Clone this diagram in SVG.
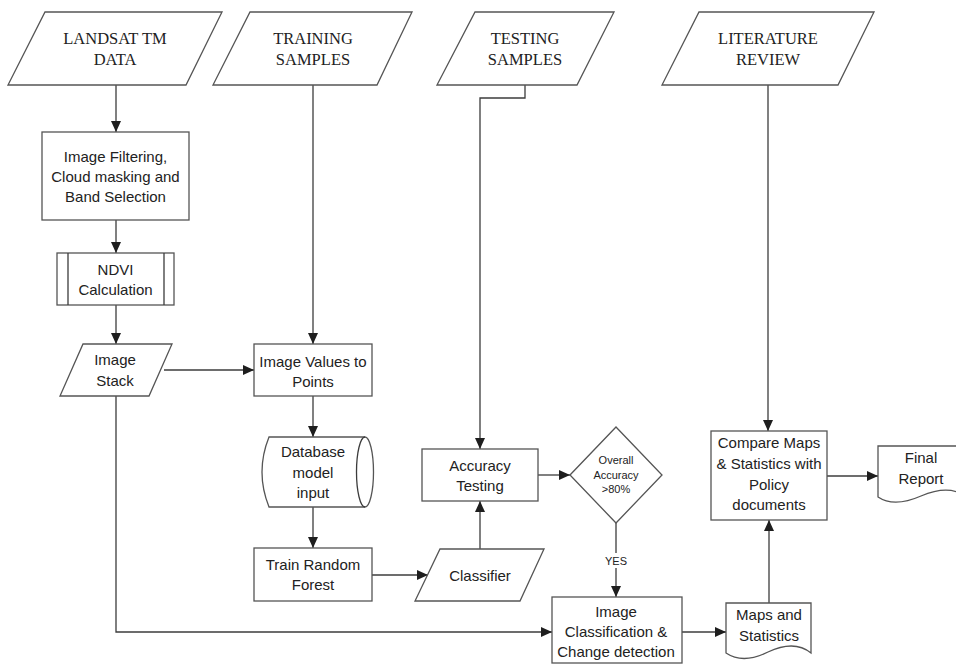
<svg xmlns="http://www.w3.org/2000/svg" width="956" height="664" viewBox="0 0 956 664">
<defs>
<marker id="ah" markerUnits="userSpaceOnUse" markerWidth="12" markerHeight="10" refX="11" refY="5" orient="auto">
<path d="M0,0 L11,5 L0,10 Z" fill="#1e1e1e"/>
</marker>
</defs>
<style>
.s{fill:#fff;stroke:#555;stroke-width:1.3}
.c{fill:none;stroke:#3c3c3c;stroke-width:1.3}
.a{marker-end:url(#ah)}
.t{font-family:"Liberation Serif","Times New Roman",serif;font-size:16.5px;fill:#222;text-anchor:middle}
.x{font-family:"Liberation Sans",Arial,sans-serif;font-size:15px;fill:#222;text-anchor:middle}
.m{font-family:"Liberation Sans",Arial,sans-serif;font-size:11px;fill:#222;text-anchor:middle}
</style>
<rect width="956" height="664" fill="#fff"/>
<g id="connectors">
<path class="c a" d="M116,85 V132"/>
<path class="c a" d="M116,220 V253"/>
<path class="c a" d="M116,305 V344"/>
<path class="c a" d="M164,370 H254"/>
<path class="c a" d="M313,85 V344"/>
<path class="c a" d="M313,396 V437"/>
<path class="c a" d="M313,507 V548"/>
<path class="c a" d="M372,575 H428"/>
<path class="c a" d="M480,549 V501"/>
<path class="c a" d="M525,85 V98 H480 V449"/>
<path class="c a" d="M538,475 H570"/>
<path class="c a" d="M616,523 V597"/>
<rect x="604" y="553" width="24" height="15" fill="#fff"/>
<text class="m" x="616" y="565">YES</text>
<path class="c a" d="M116,396 V632 H552"/>
<path class="c a" d="M682,632 H726"/>
<path class="c a" d="M769,603 V520"/>
<path class="c a" d="M768,85 V431"/>
<path class="c a" d="M827,476 H878"/>
</g>
<g id="landsat">
<polygon class="s" points="45,12 222,12 186,85 8,85"/>
<text class="t" x="115" y="44">LANDSAT TM</text>
<text class="t" x="115" y="65">DATA</text>
</g>
<g id="training">
<polygon class="s" points="250,12 412,12 377,85 213,85"/>
<text class="t" x="313" y="44">TRAINING</text>
<text class="t" x="313" y="65">SAMPLES</text>
</g>
<g id="testing">
<polygon class="s" points="475,12 614,12 577,85 437,85"/>
<text class="t" x="525" y="44">TESTING</text>
<text class="t" x="525" y="65">SAMPLES</text>
</g>
<g id="literature">
<polygon class="s" points="699,12 874,12 838,85 662,85"/>
<text class="t" x="768" y="44">LITERATURE</text>
<text class="t" x="768" y="65">REVIEW</text>
</g>
<g id="filtering">
<rect class="s" x="42" y="132" width="147" height="88"/>
<text class="x" x="115.5" y="162">Image Filtering,</text>
<text class="x" x="115.5" y="182">Cloud masking and</text>
<text class="x" x="115.5" y="202">Band Selection</text>
</g>
<g id="ndvi">
<rect class="s" x="57" y="253" width="117" height="52"/>
<path class="c" d="M68,253 V305 M164,253 V305"/>
<text class="x" x="115.5" y="275">NDVI</text>
<text class="x" x="115.5" y="295">Calculation</text>
</g>
<g id="imagestack">
<polygon class="s" points="83,344 172,344 149,396 60,396"/>
<text class="x" x="115" y="365">Image</text>
<text class="x" x="115" y="386">Stack</text>
</g>
<g id="imagevalues">
<rect class="s" x="254" y="344" width="118" height="52"/>
<text class="x" x="313" y="367">Image Values to</text>
<text class="x" x="313" y="387">Points</text>
</g>
<g id="database">
<path class="s" d="M269,437 H365 A8.5,35 0 0 1 365,507 H269 Q255,472 269,437 Z"/>
<path class="c" d="M365,437 A8.5,35 0 0 0 365,507"/>
<text class="x" x="313" y="457">Database</text>
<text class="x" x="313" y="478">model</text>
<text class="x" x="313" y="498">input</text>
</g>
<g id="train">
<rect class="s" x="254" y="548" width="118" height="53"/>
<text class="x" x="313" y="570">Train Random</text>
<text class="x" x="313" y="590">Forest</text>
</g>
<g id="classifier">
<polygon class="s" points="440,549 544,549 520,601 415,601"/>
<text class="x" x="480" y="581">Classifier</text>
</g>
<g id="accuracy">
<rect class="s" x="422" y="449" width="116" height="52"/>
<text class="x" x="480" y="471">Accuracy</text>
<text class="x" x="480" y="491">Testing</text>
</g>
<g id="decision">
<polygon class="s" points="570,475 616,427 662,475 616,523"/>
<text class="m" x="616" y="464">Overall</text>
<text class="m" x="616" y="479">Accuracy</text>
<text class="m" x="616" y="493">&gt;80%</text>
</g>
<g id="classification">
<rect class="s" x="552" y="597" width="130" height="66"/>
<text class="x" x="616" y="617">Image</text>
<text class="x" x="616" y="637">Classification &amp;</text>
<text class="x" x="616" y="657">Change detection</text>
</g>
<g id="maps">
<path class="s" d="M726,603 H811 V653 C800,644 785,644 768,652 C752,660 738,661 726,653 Z"/>
<text class="x" x="769" y="620">Maps and</text>
<text class="x" x="769" y="641">Statistics</text>
</g>
<g id="compare">
<rect class="s" x="711" y="431" width="116" height="89"/>
<text class="x" x="769" y="448">Compare Maps</text>
<text class="x" x="769" y="469">&amp; Statistics with</text>
<text class="x" x="769" y="490">Policy</text>
<text class="x" x="769" y="510">documents</text>
</g>
<g id="finalreport">
<path class="s" d="M878,446 H966 V497 C955,488 940,488 921,496 C905,503 890,505 878,497 Z"/>
<text class="x" x="921" y="463">Final</text>
<text class="x" x="921" y="484">Report</text>
</g>
</svg>
